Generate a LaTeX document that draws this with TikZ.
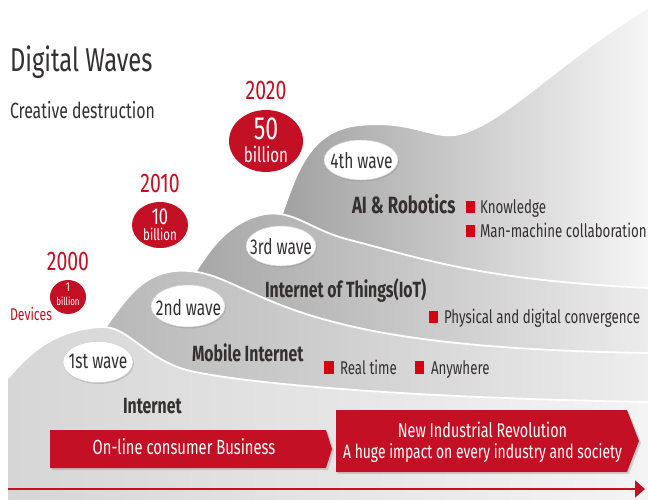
\documentclass[tikz,border=0pt]{standalone}
\usepackage{fontspec}
\setmainfont{Fira Sans}[FakeStretch=0.72]
\usetikzlibrary{shapes.geometric, arrows.meta, shadows}

\definecolor{wred}{RGB}{196,16,36}
\definecolor{bred}{RGB}{214,0,18}
\definecolor{ink}{RGB}{52,48,48}
\definecolor{l1a}{RGB}{214,214,214}
\definecolor{l1b}{RGB}{244,244,244}
\definecolor{l2a}{RGB}{184,184,184}
\definecolor{l2b}{RGB}{238,238,238}
\definecolor{l3a}{RGB}{166,166,166}
\definecolor{l3b}{RGB}{236,236,236}
\definecolor{l4a}{RGB}{160,160,160}
\definecolor{l4b}{RGB}{246,246,246}

\newcommand{\fsz}[1]{\fontsize{#1}{#1}\selectfont}

\begin{document}
\begin{tikzpicture}[x=1pt,y=-1pt,
  lbl/.style={inner sep=0pt, outer sep=0pt, text=ink},
  redlbl/.style={inner sep=0pt, outer sep=0pt, text=wred},
  wlbl/.style={inner sep=0pt, outer sep=0pt, text=white},
  edge/.style={draw=white, line width=1.8pt},
  bubble/.style={fill=white, draw=black!18, line width=0.5pt,
    drop shadow={shadow xshift=1pt, shadow yshift=-1.5pt, opacity=0.3}},
  redbubble/.style={fill=wred},
  arrowbox/.style={fill=wred,
    drop shadow={shadow xshift=2pt, shadow yshift=-2pt, opacity=0.3}},
  bullet/.style={fill=bred},
  wavefont/.style={font=\fsz{21.5}},
  headfont/.style={font=\fsz{22}\bfseries},
  itemfont/.style={font=\fsz{18.5}}
]
\useasboundingbox (0,0) rectangle (648,500);
\fill[white] (0,0) rectangle (648,500);

% ---- 4th wave layer (back)
\shade[left color=l4a, right color=l4b]
  (278,240) -- (278,225) .. controls (295,180) and (305,130) .. (360,125)
  .. controls (410,120) and (430,138) .. (455,135)
  .. controls (500,128) and (560,60) .. (648,8)
  -- (648,500) -- (278,500) -- cycle;
\draw[edge] (278,225) .. controls (295,180) and (305,130) .. (360,125)
  .. controls (410,120) and (430,138) .. (455,135)
  .. controls (500,128) and (560,60) .. (648,8);

% ---- 3rd wave layer
\shade[left color=l3a, right color=l3b]
  (185,300) -- (185,290) .. controls (205,255) and (225,222) .. (265,214)
  .. controls (295,210) and (310,230) .. (350,240)
  .. controls (420,258) and (480,280) .. (648,288)
  -- (648,500) -- (185,500) -- cycle;
\draw[edge] (185,290) .. controls (205,255) and (225,222) .. (265,214)
  .. controls (295,210) and (310,230) .. (350,240)
  .. controls (420,258) and (480,280) .. (648,288);

% ---- 2nd wave layer
\shade[left color=l2a, right color=l2b]
  (100,345) -- (100,335) .. controls (125,300) and (140,275) .. (175,271)
  .. controls (215,268) and (235,290) .. (300,312)
  .. controls (360,332) and (450,350) .. (648,353)
  -- (648,500) -- (100,500) -- cycle;
\draw[edge] (100,335) .. controls (125,300) and (140,275) .. (175,271)
  .. controls (215,268) and (235,290) .. (300,312)
  .. controls (360,332) and (450,350) .. (648,353);

% ---- 1st wave layer (front)
\shade[left color=l1a, right color=l1b]
  (8,500) -- (8,378) .. controls (30,352) and (55,330) .. (100,327)
  .. controls (130,325) and (145,362) .. (195,372)
  .. controls (260,385) and (420,398) .. (648,402)
  -- (648,500) -- cycle;
\draw[edge] (8,378) .. controls (30,352) and (55,330) .. (100,327)
  .. controls (130,325) and (145,362) .. (195,372)
  .. controls (260,385) and (420,398) .. (648,402);

% ---- titles
\node[lbl, anchor=base west, font=\fsz{33}] (title) at (10,72) {Digital Waves};
\node[lbl, anchor=base west, font=\fsz{22}] (subtitle) at (10,119) {Creative destruction};

% ---- device counts
\node[redlbl, anchor=base, font=\fsz{27}] (y2020) at (266,100) {2020};
\path[redbubble] (266,141) ellipse (37 and 31);
\node[wlbl, align=center, font=\fsz{23.5}] (c2020) at (266,140.5)
  {{\fsz{32}50}\\{\fsz{21}billion}};

\node[redlbl, anchor=base, font=\fsz{27}] (y2010) at (160,193) {2010};
\path[redbubble] (160,225) ellipse (28 and 23);
\node[wlbl, align=center, font=\fsz{16}] (c2010) at (160,225.2)
  {{\fsz{23}10}\\{\fsz{16}billion}};

\node[redlbl, anchor=base, font=\fsz{27}] (y2000) at (68,270) {2000};
\path[redbubble] (68,297) ellipse (18 and 17);
\node[wlbl, align=center, font=\fsz{14}] (c2000) at (68,294.5)
  {{\fsz{13}1}\\{\fsz{11}billion}};
\node[redlbl, anchor=base west, font=\fsz{17}] (devices) at (10,320) {Devices};

% ---- wave bubbles
\path[bubble] (98,362) ellipse (35 and 20.5);
\node[lbl, wavefont, anchor=base] (w1) at (98,368) {1st wave};
\path[bubble] (188,306) ellipse (37 and 21);
\node[lbl, wavefont, anchor=base] (w2) at (188.5,315) {2nd wave};
\path[bubble] (281,246) ellipse (35 and 20);
\node[lbl, wavefont, anchor=base] (w3) at (281,254) {3rd wave};
\path[bubble] (361,160) ellipse (37 and 20);
\node[lbl, wavefont, anchor=base] (w4) at (361.5,168) {4th wave};

% ---- wave headings
\node[lbl, headfont, anchor=base west] (h1) at (123,413) {Internet};
\node[lbl, headfont, anchor=base west] (h2) at (192,361) {Mobile Internet};
\node[lbl, headfont, anchor=base west] (h3) at (265,297) {Internet of Things(IoT)};
\node[lbl, font=\fsz{23.5}\bfseries, anchor=base west] (h4) at (352,213) {AI \& Robotics};

% ---- bullet items
\fill[bullet] (466,201) rectangle (475,213);
\node[lbl, itemfont, anchor=base west] (k1) at (480,213) {Knowledge};
\fill[bullet] (466,225) rectangle (475,237);
\node[lbl, itemfont, anchor=base west] (k2) at (480,237) {Man-machine collaboration};
\fill[bullet] (429,311) rectangle (438,323);
\node[lbl, itemfont, anchor=base west] (k3) at (444,323) {Physical and digital convergence};
\fill[bullet] (324,361) rectangle (334,374);
\node[lbl, itemfont, anchor=base west] (k4) at (340,374) {Real time};
\fill[bullet] (415,361) rectangle (424,374);
\node[lbl, itemfont, anchor=base west] (k5) at (431,374) {Anywhere};

% ---- era arrows
\path[arrowbox] (50,430) -- (326,430) -- (332,449) -- (326,468) -- (50,468) -- cycle;
\node[wlbl, anchor=base, font=\fsz{20.5}] (era1) at (184,454) {On-line consumer Business};
\path[arrowbox] (336,410) -- (627,410) -- (639,441) -- (627,472) -- (336,472) -- cycle;
\node[wlbl, anchor=base, font=\fsz{20}] (era2a) at (482.5,437) {New Industrial Revolution};
\node[wlbl, anchor=base, font=\fsz{19.3}] (era2b) at (482.5,458) {A huge impact on every industry and society};

% ---- time line
\coordinate (tstart) at (8,489);
\coordinate (tend) at (645,489);
\draw[wred, line width=2pt, -{Triangle[length=10pt,width=17pt]}] (tstart) -- (tend);
\end{tikzpicture}
\end{document}
